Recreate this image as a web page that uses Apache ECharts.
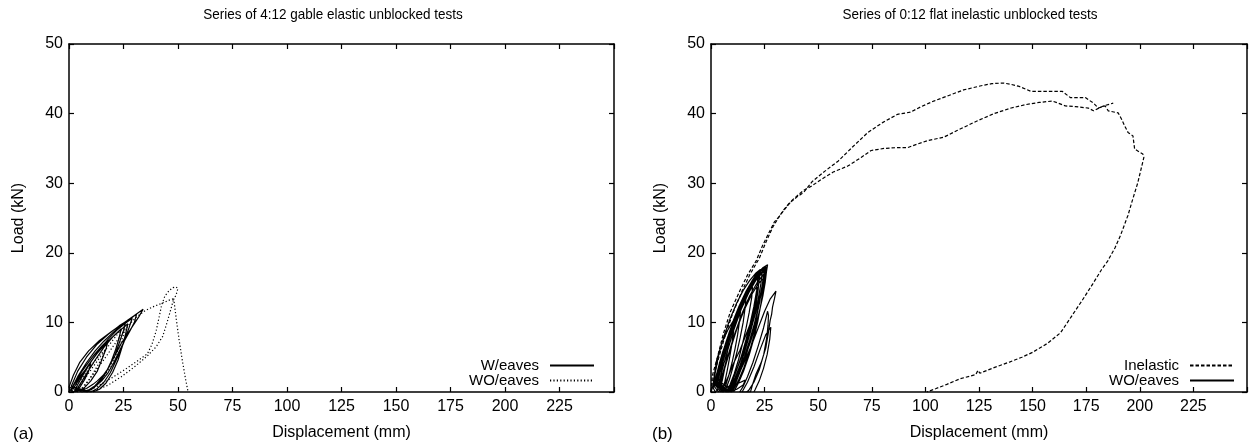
<!DOCTYPE html>
<html>
<head>
<meta charset="utf-8">
<script src="https://cdn.jsdelivr.net/npm/echarts@6/dist/echarts.min.js"></script>
<style>html,body{margin:0;padding:0;background:#fff}#c{width:1250px;height:446px}</style>
</head>
<body>
<div id="c"></div>
<script>
// ---- data (Displacement mm, Load kN) ----
const xTicks = [0, 25, 50, 75, 100, 125, 150, 175, 200, 225];
const yTicks = [0, 10, 20, 30, 40, 50];

const aWeaves = [
[0,0],[2,0.9],[5,2.2],[8,3.4],[10,4.1],[9,3.0],[7,1.7],[5,0.7],[3,0.1],[1,0],
[1,0.3],[3,1.5],[6,3.0],[9,4.3],[12,5.5],[15,6.6],[18,7.5],[17,6.2],[15,4.6],[13,3.0],[10,1.6],[7,0.6],[4,0.1],[2,0],
[1,0.4],[4,2.2],[8,4.2],[12,5.9],[16,7.3],[20,8.5],[24,9.6],[26,10.1],[25,8.8],[23,7.0],[21,5.2],[18,3.4],[15,2.0],[12,0.9],[9,0.3],[6,0],
[2,0.5],[5,2],[9,3.9],[13,5.6],[17,7],[21,8.2],[24,9.1],[23,7.8],[21.5,6.2],[19.5,4.5],[17,2.8],[14,1.4],[11,0.5],[8,0],
[3,0.5],[6,2.2],[10,4.3],[14,6.1],[18,7.6],[22,8.9],[26,9.9],[29,10.6],[27.5,9.2],[25,7.0],[22,4.8],[19,2.8],[16,1.4],[13,0.5],[10,0],
[1,0.8],[4,3],[8,5],[13,6.9],[18,8.3],[23,9.5],[28,10.5],[31,11.2],[30,10],[28,8.8],[25.5,7.4],[23,5.8],[20.5,4.2],[18,2.8],[15,1.6],[12,0.8],[9,0.3],[6,0],
[0,0.7],[2,2.4],[5,4.3],[9,5.9],[14,7.4],[20,8.8],[26.4,10.2],[30,11],[34,11.9],[32,10.8],[29.5,9.6],[27,8.4],[24,7.0],[21.5,5.5],[19.5,4.3],[17.5,3.2],[15.7,2.4],[13,1.6],[11,1.1],[8,0.5],[5,0.2],[2,0],
[4,0.6],[8,2.6],[12,4.6],[16,6.4],[20,7.9],[24,9.0],[27,9.8],[26,8.4],[24.5,6.6],[22.5,4.6],[20,2.8],[17,1.3],[14,0.4],[11,0]
];

const aWOeaves = [
[0,0],[3,0.9],[6,2.0],[9,3.3],[12,4.5],[15,5.6],[17,6.2],[15,4.8],[12,3.2],[9,1.7],[6,0.6],[4,0],
[3,0.3],[7,1.8],[11,3.6],[15,5.3],[19,7],[23,8.6],[26,9.6],[25,8.2],[23,6.4],[20.5,4.6],[17.5,2.9],[14,1.5],[10,0.4],[7,0],
[7,0.8],[11,2.5],[15,4.2],[19,6.0],[23,7.8],[27,9.5],[31,10.8],[35,11.7],[39,12.3],[43,12.8],[46,13.2],[48,13.4],[47,12.2],[45,10.0],[43,8.0],[40,6.5],[36,5.2],[30,3.6],[24,2.2],[18,1.0],[12,0.2],[8,0],
[14,1.0],[20,2.1],[26,3.3],[32,4.6],[36,5.5],[38,6.8],[40,8.8],[41.5,11],[42.5,12.5],[44,13.8],[46,14.6],[47.7,15],[49,15.1],[50,14.9],[49,13.8],[48,13.5],[49.2,10.5],[50.5,7.5],[52,4.5],[53.5,1.8],[54.5,0.2],[55,0]
];

const bInelastic1 = [
[0,0],[1,2],[3.5,4.8],[6.5,8],[10,11.2],[14.5,14.5],[18,16.8],[22.5,19.2],[26,21.8],[29,23.8],[32,25.3],[35,26.5],[38,27.6],[41,28.4],[43.3,29],
[47,29.6],[51.7,30.6],[57,31.6],[64,32.5],[70,33.7],[74.7,34.7],[80.9,35],[86,35.1],[91.6,35.1],[96,35.6],[100.8,36.1],[108.5,36.6],[115,37.6],[123.8,38.9],
[132,40],[140,40.8],[146.9,41.3],[153,41.6],[159.2,41.8],[162,41.5],[165.3,41.1],[170,41],[176,40.8],[178.4,40.4],[181,40.8],[183,41.1],[187.6,41.5]
];

const bInelastic2 = [
[0,0],[0.5,2.2],[3,5],[5.7,8.3],[9,11.5],[13.4,14.5],[17,16.8],[21,18.8],[24,21],[27.2,23],[29.5,24.4],[31.8,25.2],[34,26.2],[36.4,27.1],[40,28],[43.3,28.7],
[47.1,30.2],[53,31.7],[59.4,33.2],[66,35.2],[73.2,37.3],[80,38.7],[87,39.9],[93,40.2],[98,41],[103.9,41.8],[110,42.5],[117.8,43.4],[126,44],[131,44.3],[136.2,44.4],
[140,44.2],[143.8,43.9],[149.2,43.2],[156,43.2],[163.8,43.2],[167.6,42.3],[174.6,42.3],[178.4,41.5],[180.7,40.8],[183.8,41.1],[185.3,40.4],[189.9,40.1],
[191.5,39.2],[193,38.2],[194.5,37.3],[196.8,36.8],[197.6,34.9],[201.4,34.2],[201.9,33.7],[199,30],[196.5,27.5],[194.5,25.4],[191,22.5],[188.4,20.7],[185,18.8],
[182.2,17.6],[178,15.5],[173,13.1],[168,10.8],[163,8.5],[157,7],[150,5.7],[145,5],[139.2,4.3],[132,3.5],[125.4,2.7],[124.5,3.1],[123.5,2.5],[116.2,1.9],
[110,1.1],[105,0.5],[100.8,0]
];

const bWOeaves = [
[0,0],[1.5,1.5],[3,3],[4.5,4.3],[6,5.4],[5.5,4],[4.8,2.6],[4,1.3],[3,0.3],[2,0],
[1,0.6],[2.5,2.4],[4,4.2],[5.5,5.8],[7,7.1],[8.5,8.1],[8,6.5],[7.2,4.8],[6.3,3.2],[5.3,1.7],[4.3,0.5],[3.5,0],
[1.5,0.8],[3,2.8],[5,5.2],[7,7.2],[9,9],[11,10.4],[10.5,8.6],[9.6,6.6],[8.6,4.8],[7.5,3],[6.4,1.4],[5.2,0.3],[4.5,0],
[2,1],[4,3.6],[6.5,6.4],[9,8.8],[11.5,10.8],[14,12.4],[13.4,10.4],[12.4,8.2],[11.2,6.2],[9.8,4.2],[8.3,2.4],[6.8,0.9],[5.5,0],
[2,1.2],[4.5,4.2],[7.5,7.5],[10.5,10.2],[13.5,12.5],[16.5,14.3],[16,12.3],[15,10],[13.6,7.8],[12,5.6],[10.3,3.6],[8.6,1.8],[7,0.5],[6,0],
[2.5,1.3],[5,4.5],[8,7.8],[11,10.5],[14,12.8],[17,14.6],[19.5,15.8],[19,13.6],[17.8,11.4],[16.3,9.1],[14.6,6.8],[12.8,4.6],[10.8,2.6],[8.8,1],[7,0],
[2,1.5],[5,5],[8.5,8.6],[12,11.4],[15.5,13.6],[19,15.5],[22,16.8],[21.3,14.6],[20,12.3],[18.3,9.9],[16.4,7.6],[14.3,5.3],[12,3.2],[9.8,1.4],[7.8,0.2],[7,0],
[2,0.9],[4.5,3.8],[7.5,7],[10.5,9.8],[13.5,12.2],[16.5,14.2],[19.5,15.6],[22.5,16.6],[22,14.7],[21,12.6],[19.5,10.3],[17.6,7.9],[15.5,5.6],[13.2,3.5],[10.9,1.7],[8.7,0.4],[8,0],
[2.5,1.6],[5.5,5.2],[9,8.8],[12.5,11.7],[16,14],[19.5,16],[23,17.4],[24,17.6],[23.3,15.6],[22,13.3],[20.3,10.9],[18.3,8.5],[16,6.1],[13.6,3.9],[11.2,2],[9,0.6],[7.5,0],
[2.8,1.1],[5.8,4.6],[9.2,8.1],[12.6,11],[16,13.4],[19.4,15.3],[22.8,16.9],[25.2,17.8],[24.6,16.1],[23.5,14.2],[22,12.1],[20.2,9.8],[18,7.4],[15.6,5.1],[13,3],[10.6,1.3],[8.8,0.2],[8.3,0],
[1,1.2],[2.6,4.5],[5,7],[8,9],[10.3,10.2],[13,12.3],[16.4,14.5],[19,15.9],[21,16.9],[24,17.8],[26.4,18.3],[25.6,16.8],[24.1,15],[22.6,13.5],[21,12.1],[18.8,10.2],[16.4,8.3],[13.5,6],[10.3,4],[8,2.2],[5.7,0.7],[5,0],
[1.5,2],[3.5,5.2],[6,8],[9,10.6],[12,12.8],[15,14.6],[18,16],[21,17.1],[23,17.6],[22.4,15.8],[21.3,13.7],[19.8,11.4],[18,9],[15.8,6.6],[13.5,4.4],[11,2.4],[8.6,0.8],[7,0],
[3,1.4],[6,5],[9.5,8.6],[13,11.6],[16.5,14],[20,16],[23,17.3],[25,17.9],[24.3,16],[23,14],[21.3,11.9],[19.2,9.6],[16.8,7.3],[14.2,5],[11.6,2.9],[9.2,1.2],[7.5,0],
[3.2,1.8],[6.6,5.8],[10,9.2],[13.4,12],[16.8,14.3],[20.2,16.1],[23.6,17.5],[25.8,18],[25.3,16.6],[24.5,14.8],[23.4,12.8],[21.9,10.5],[20,8.1],[17.8,5.7],[15.3,3.5],[12.7,1.6],[10.4,0.3],[9.6,0],
[3.5,1.2],[7,5.2],[10.5,8.8],[14,11.8],[17.5,14.2],[21,16.1],[24.5,17.3],[26,17.6],[25.3,15.8],[24.2,13.8],[22.6,11.6],[20.6,9.3],[18.2,7],[15.6,4.8],[13,2.8],[10.5,1.1],[8.5,0],
[4,1.2],[7.5,4.8],[11,8.3],[14.5,11.3],[18,13.8],[21.5,15.7],[24.5,16.9],[23.8,15],[22.6,12.8],[21,10.4],[19,8],[16.7,5.6],[14.2,3.4],[11.8,1.5],[9.8,0.2],[9.2,0],
[4.5,1.4],[8.5,5.6],[12,9],[15.5,11.8],[19,14],[22,15.5],[24.8,16.5],[24.2,14.6],[23.2,12.5],[21.8,10.1],[20,7.7],[17.8,5.3],[15.3,3.1],[12.8,1.3],[10.8,0.1],[10.5,0],
[5,0.6],[9,0.9],[13,1.3],[16,1.7],[15,1.0],[12,0.4],[9,0],
[9,0],[11,1.2],[13,2.6],[16,4.6],[19,6.8],[22,9.2],[25,11.6],[27.5,13.3],[30.3,14.5],[29.6,13.4],[28.7,12.2],[28.3,11.2],[27.6,10.3],[26.8,8.6],[25.6,6.4],[23.5,4.3],[21,2.6],[19.5,1.2],[18.4,0],
[13.4,0],[15,0.8],[17,2.2],[19.5,4.2],[22,6.6],[24.5,9.2],[26.4,11.6],[26.8,11],[26.6,9.6],[26,7.8],[24.6,5.4],[22.5,3.2],[20,1.4],[17.5,0.2],[16.5,0],
[14.5,0],[17,1.4],[20,3.6],[23,6.2],[25.5,8.2],[27.9,9.3],[27.4,7.6],[26.2,5.4],[24.5,3.4],[22.5,1.6],[20.5,0.3],[20,0]
];

const titles = ['Series of 4:12 gable elastic unblocked tests', 'Series of 0:12 flat inelastic unblocked tests'];
const panelTags = ['(a)', '(b)'];

// ---- chart ----
const FONT = 'Liberation Sans, Arial, sans-serif';
const chart = echarts.init(document.getElementById('c'), null, {renderer: 'canvas'});

const grids = [
  {left: 69, top: 44, width: 545, height: 351},
  {left: 711, top: 44, width: 543, height: 351}
];

function xAx(g, pos) {
  const main = pos === 'bottom';
  return {
    type: 'value', gridIndex: g, position: pos, min: 0, max: 250, interval: 25,
    axisLine: {show: true, onZero: false, lineStyle: {color: '#000', width: 1.5}},
    axisTick: {show: true, inside: true, length: 5, lineStyle: {color: '#000', width: 1.2}},
    axisLabel: {show: main, color: '#000', fontSize: 16, fontFamily: FONT, margin: 7,
      formatter: v => (xTicks.indexOf(v) >= 0 ? String(v) : '')},
    splitLine: {show: false},
    name: main ? 'Displacement (mm)' : '', nameLocation: 'middle', nameGap: 33,
    nameTextStyle: {color: '#000', fontSize: 16, fontFamily: FONT}
  };
}
function yAx(g, pos) {
  const main = pos === 'left';
  return {
    type: 'value', gridIndex: g, position: pos, min: 0, max: 50, interval: 10,
    axisLine: {show: true, onZero: false, lineStyle: {color: '#000', width: 1.5}},
    axisTick: {show: true, inside: true, length: 5, lineStyle: {color: '#000', width: 1.2}},
    axisLabel: {show: main, color: '#000', fontSize: 16, fontFamily: FONT, margin: 6,
      formatter: v => (yTicks.indexOf(v) >= 0 ? String(v) : '')},
    splitLine: {show: false},
    name: main ? 'Load (kN)' : '', nameLocation: 'middle', nameGap: 42,
    nameTextStyle: {color: '#000', fontSize: 16, fontFamily: FONT}
  };
}

function line(name, data, xi, yi, type) {
  return {
    type: 'line', name: name, data: data, xAxisIndex: xi, yAxisIndex: yi,
    symbol: 'none', showSymbol: false, smooth: false, animation: false,
    lineStyle: {color: '#000', width: 1.2, type: type},
    itemStyle: {color: '#000'}
  };
}

function leg(name, right, top) {
  return {
    data: [name], orient: 'vertical', right: right, top: top, align: 'right',
    itemWidth: 44, itemHeight: 12, selectedMode: false, padding: 0,
    formatter: n => n.replace(' (b)', ''),
    itemStyle: {opacity: 0},
    textStyle: {color: '#000', fontSize: 15, fontFamily: FONT, padding: [0, 6, 0, 0]}
  };
}

const option = {
  backgroundColor: '#fff',
  animation: false,
  grid: grids,
  xAxis: [xAx(0, 'bottom'), xAx(0, 'top'), xAx(1, 'bottom'), xAx(1, 'top')],
  yAxis: [yAx(0, 'left'), yAx(0, 'right'), yAx(1, 'left'), yAx(1, 'right')],
  legend: [
    leg('W/eaves', 655, 358),
    leg('WO/eaves', 655, 373),
    leg('Inelastic', 15, 358),
    leg('WO/eaves (b)', 15, 373)
  ],
  series: [
    line('W/eaves', aWeaves, 0, 0, 'solid'),
    line('WO/eaves', aWOeaves, 0, 0, [1.2, 2.2]),
    line('Inelastic', bInelastic1, 2, 2, [3.5, 2]),
    line('Inelastic', bInelastic2, 2, 2, [3.5, 2]),
    line('WO/eaves (b)', bWOeaves, 2, 2, 'solid')
  ],
  graphic: [
    {type: 'text', x: 333, y: 15, scaleX: 0.9, style: {text: titles[0], textAlign: 'center', textVerticalAlign: 'middle', font: '15px ' + FONT, fill: '#000'}},
    {type: 'text', x: 970, y: 15, scaleX: 0.9, style: {text: titles[1], textAlign: 'center', textVerticalAlign: 'middle', font: '15px ' + FONT, fill: '#000'}},
    {type: 'text', x: 13, y: 434, style: {text: panelTags[0], textAlign: 'left', textVerticalAlign: 'middle', font: '17px ' + FONT, fill: '#000'}},
    {type: 'text', x: 652, y: 434, style: {text: panelTags[1], textAlign: 'left', textVerticalAlign: 'middle', font: '17px ' + FONT, fill: '#000'}}
  ]
};
chart.setOption(option);
</script>
</body>
</html>
